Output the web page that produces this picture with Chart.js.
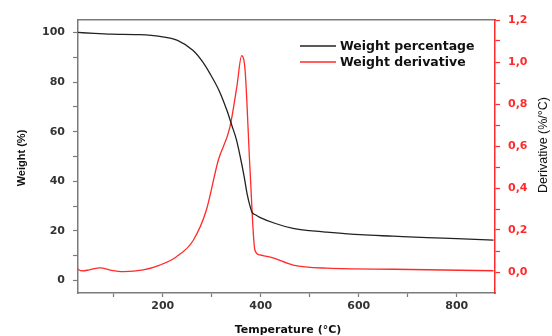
<!DOCTYPE html>
<html>
<head>
<meta charset="utf-8">
<script src="https://cdn.jsdelivr.net/npm/chart.js@4.4.1/dist/chart.umd.min.js"></script>
<style>
  html, body { margin: 0; padding: 0; background: #fff; }
  #wrap { width: 552px; height: 336px; }
</style>
</head>
<body>
<div id="wrap"><canvas id="myChart" width="552" height="336"></canvas></div>
<script>
// Weight percentage (TGA) curve
const tempW = [25, 60, 95, 150, 194, 230, 262, 280, 296, 315, 331, 341, 350, 358, 366, 372, 378, 382, 390, 398, 430, 466, 500, 535, 603, 670, 739, 800, 875];
const weightPct = [100, 99.6, 99.3, 99.1, 98.4, 96.8, 92.7, 88.5, 83.5, 76.5, 68.5, 62.5, 57, 50, 42, 35, 30, 27.6, 26.4, 25.5, 23, 21, 20.1, 19.5, 18.5, 17.9, 17.3, 16.9, 16.3];

// Derivative (DTG) curve
const tempD = [25, 35, 50, 72, 95, 120, 160, 194, 228, 262, 289, 313, 337, 351, 361, 368, 378, 388, 398, 425, 466, 535, 671, 875];
const derivative = [0.015, 0.005, 0.01, 0.02, 0.008, 0.002, 0.01, 0.033, 0.073, 0.15, 0.295, 0.53, 0.69, 0.88, 1.03, 0.96, 0.49, 0.105, 0.081, 0.067, 0.033, 0.018, 0.013, 0.006];

const xTicks = [200, 400, 600, 800];
const leftTicks = [0, 20, 40, 60, 80, 100];
const rightTicks = [0, 0.2, 0.4, 0.6, 0.8, 1.0, 1.2];

const seriesLabels = ["Weight percentage", "Weight derivative"];
const axisTitles = { x: "Temperature (°C)", left: "Weight (%)", right: "Derivative (%/°C)" };

const WIDE = "'DejaVu Sans', sans-serif";
const NARROW = "'Liberation Sans', Arial, sans-serif";
const RED = "#ff2a2a";
const BLACK = "#222222";
const FRAME = "#7a7a7a";

// custom legend + axis titles
const decorPlugin = {
	id: "decor",
	afterDraw(chart) {
		const ctx = chart.ctx;
		ctx.save();
		// legend inside plot
		chart.data.datasets.forEach((ds, i) => {
			const y = 46 + i * 16;
			ctx.strokeStyle = ds.borderColor;
			ctx.lineWidth = 1.5;
			ctx.beginPath();
			ctx.moveTo(300, y);
			ctx.lineTo(336, y);
			ctx.stroke();
			ctx.fillStyle = "#111";
			ctx.font = "bold 12.5px " + WIDE;
			ctx.textBaseline = "middle";
			ctx.textAlign = "left";
			ctx.fillText(ds.label, 340, y + 1);
		});

		// axis titles
		ctx.fillStyle = "#111";
		ctx.textAlign = "center";
		ctx.textBaseline = "middle";
		ctx.font = "bold 11px " + WIDE;
		ctx.fillText(axisTitles.x, 288, 330);

		ctx.font = "bold 11px " + NARROW;
		ctx.save();
		ctx.translate(22, 158);
		ctx.rotate(-Math.PI / 2);
		ctx.fillText(axisTitles.left, 0, 0);
		ctx.restore();

		ctx.font = "12.5px " + NARROW;
		ctx.save();
		ctx.translate(544, 145);
		ctx.rotate(-Math.PI / 2);
		ctx.fillText(axisTitles.right, 0, 0);
		ctx.restore();

		ctx.restore();
	},
};

const tickFont = { family: WIDE, size: 11, weight: "bold" };

new Chart(document.getElementById("myChart"), {
	type: "line",
	data: {
		datasets: [
			{
				label: seriesLabels[0],
				data: tempW.map((t, i) => ({ x: t, y: weightPct[i] })),
				borderColor: BLACK,
				borderWidth: 1.3,
				pointRadius: 0,
				tension: 0.4,
				cubicInterpolationMode: "monotone",
				yAxisID: "y",
			},
			{
				label: seriesLabels[1],
				data: tempD.map((t, i) => ({ x: t, y: derivative[i] })),
				borderColor: RED,
				borderWidth: 1.3,
				pointRadius: 0,
				tension: 0.4,
				cubicInterpolationMode: "monotone",
				yAxisID: "y2",
			},
		],
	},
	options: {
		responsive: false,
		animation: false,
		layout: { padding: 0 },
		plugins: {
			legend: { display: false },
			tooltip: { enabled: false },
		},
		scales: {
			x: {
				type: "linear",
				position: "bottom",
				min: 27,
				max: 878,
				afterFit: (s) => { s.height = 43; },
				afterBuildTicks: (s) => {
					s.ticks = [];
					for (let v = 100; v <= 800; v += 100) s.ticks.push({ value: v });
				},
				ticks: {
					font: tickFont,
					color: "#333",
					padding: 3,
					maxRotation: 0,
					autoSkip: false,
					callback: (v) => (xTicks.includes(v) ? String(v) : ""),
				},
				grid: { drawOnChartArea: false, color: FRAME, tickLength: 4, tickWidth: 1.2 },
				border: { color: FRAME, width: 1.5 },
			},
			xTop: {
				type: "linear",
				position: "top",
				min: 27,
				max: 878,
				afterFit: (s) => { s.height = 20; },
				ticks: { display: false },
				grid: { display: false },
				border: { color: FRAME, width: 1.5 },
			},
			y: {
				type: "linear",
				position: "left",
				min: -5,
				max: 105,
				afterFit: (s) => { s.width = 78; },
				afterBuildTicks: (s) => {
					s.ticks = [];
					for (let v = 0; v <= 100; v += 10) s.ticks.push({ value: v });
				},
				ticks: {
					font: tickFont,
					color: "#333",
					padding: 8,
					autoSkip: false,
					callback: (v) => (leftTicks.includes(v) ? String(v) : ""),
				},
				grid: { drawOnChartArea: false, color: FRAME, tickLength: 5, tickWidth: 1.2 },
				border: { color: FRAME, width: 1.5 },
			},
			y2: {
				type: "linear",
				position: "right",
				min: -0.1,
				max: 1.2,
				afterFit: (s) => { s.width = 57; },
				afterBuildTicks: (s) => {
					s.ticks = [];
					for (let k = 0; k <= 12; k++) s.ticks.push({ value: k / 10 });
				},
				ticks: {
					font: tickFont,
					color: RED,
					padding: 8,
					autoSkip: false,
					callback: (v) => {
						const k = Math.round(v * 10);
						return k % 2 === 0 ? (k / 10).toFixed(1).replace(".", ",") : "";
					},
				},
				grid: { drawOnChartArea: false, color: RED, tickLength: 5, tickWidth: 1.2 },
				border: { color: RED, width: 1.5 },
			},
		},
	},
	plugins: [decorPlugin],
});
</script>
</body>
</html>
